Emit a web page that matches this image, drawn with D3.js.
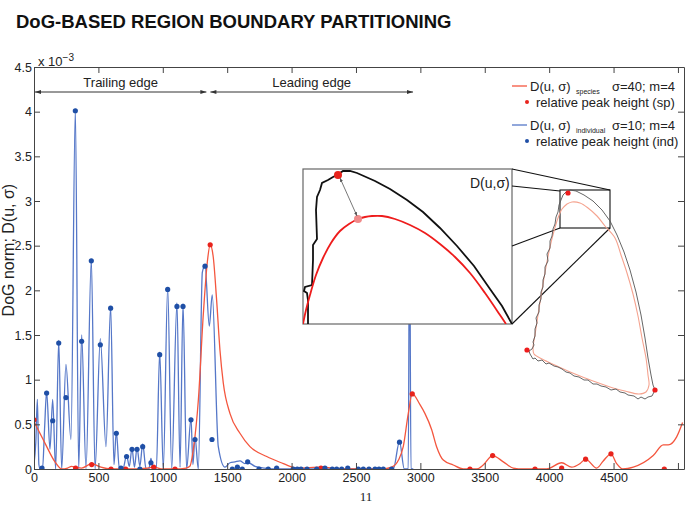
<!DOCTYPE html>
<html>
<head>
<meta charset="utf-8">
<script src="https://cdn.jsdelivr.net/npm/d3@7"></script>
<style>
body { margin: 0; background: #fff; }
svg { display: block; }
text { font-family: "Liberation Sans", Arial, sans-serif; fill: #222; }
</style>
</head>
<body>
<div id="chart"></div>
<script>
// ---- data ----
var xTicks = [0, 500, 1000, 1500, 2000, 2500, 3000, 3500, 4000, 4500, 5000];
var xTickLabels = ["0", "500", "1000", "1500", "2000", "2500", "3000", "3500", "4000", "4500", ""];
var yTicks = [0, 0.5, 1, 1.5, 2, 2.5, 3, 3.5, 4, 4.5];
var yTickLabels = ["0", "0.5", "1", "1.5", "2", "2.5", "3", "3.5", "4", "4.5"];

// D(u, sigma) individual (sigma=10), blue
var indX = [0, 14, 26, 38, 47, 66, 82, 98, 124, 145, 168, 192, 215, 248, 287, 321, 347, 370, 404, 445,
  474, 515, 559, 595, 621, 639, 663, 690, 719, 740, 761, 780, 800, 822, 844, 870, 892, 908, 925, 950,
  976, 1004, 1038, 1069, 1110, 1134, 1157, 1185, 1219, 1234, 1250, 1276, 1307, 1328, 1361, 1384, 1431, 1483,
  1522, 1561, 1599, 1638, 1664, 1716, 1793, 1897, 2790, 2838, 2875, 2906, 2916, 2927, 2945];
var indY = [0.05, 0.3, 0.78, 0.05, 0, 0, 0.45, 0.87, 0.22, 0.78, 0, 1.44, 0, 1.17, 0.33, 4.03, 0, 1.5, 0, 2.35,
  0, 1.46, 0.25, 1.82, 0.05, 0.42, 0, 0, 0.15, 0.03, 0.23, 0.02, 0.24, 0.03, 0.28, 0, 0, 0.12, 0, 0,
  1.31, 0, 2.03, 0, 1.86, 0.02, 1.85, 0, 0.57, 0.05, 0.36, 0, 2.2, 2.28, 1.6, 1.95, 0.25, 0.02,
  0.07, 0.08, 0.09, 0.06, 0.07, 0.03, 0.01, 0, 0, 0.31, 0, 0, 3.0, 0, 0];

// D(u, sigma) species (sigma=40), red
var spX = [0, 85, 163, 215, 260, 292, 323, 370, 448, 520, 598, 712, 800, 880, 929, 1000, 1095, 1180, 1210,
  1240, 1276, 1315, 1346, 1368, 1392, 1418, 1444, 1470, 1522, 1599, 1677, 1807, 1936, 1988, 2050, 2228, 2400,
  2700, 2777, 2830, 2867, 2906, 2937, 2997, 3036, 3088, 3126, 3178, 3255, 3333, 3437, 3488, 3561, 3644, 3721,
  3800, 3981, 4097, 4175, 4239, 4283, 4369, 4420, 4480, 4524, 4571, 4653, 4808, 4886, 4925, 4990, 5036];
var spY = [0.53, 0.29, 0.08, 0, 0.01, 0.03, 0.02, 0.01, 0.06, 0.02, 0, 0, 0, 0.01, 0.02, 0, 0, 0.01, 0.03,
  0.25, 0.77, 1.74, 2.32, 2.51, 2.37, 1.89, 1.33, 0.96, 0.62, 0.4, 0.25, 0.14, 0.06, 0.03, 0.01, 0.02, 0,
  0, 0.02, 0.1, 0.25, 0.62, 0.84, 0.72, 0.62, 0.44, 0.25, 0.1, 0.045, 0, 0, 0.045, 0.15, 0.08, 0.01,
  0, 0, 0.07, 0.02, 0.06, 0.11, 0.01, 0.09, 0.17, 0.06, 0, 0.02, 0.15, 0.27, 0.27, 0.36, 0.52];

// relative peak heights
var spPeakX = [0, 323, 448, 598, 712, 929, 1095, 1368, 2228, 2937, 3385, 3561, 3890, 4097, 4283, 4480, 4894];
var spPeakY = [0.55, 0.01, 0.05, 0, 0, 0.02, 0, 2.51, 0.01, 0.84, 0, 0.15, 0, 0.01, 0.11, 0.17, 0];
var indPeakX = [62, 98, 145, 192, 248, 321, 370, 445, 515, 595, 639, 675, 719, 761, 800, 822, 844, 908,
  976, 1038, 1110, 1157, 1219, 1250, 1328, 1382, 1540, 1579, 1617, 1659, 1747, 1819, 1884, 2013, 2044,
  2073, 2120, 2195, 2259, 2316, 2350, 2389, 2436, 2518, 2557, 2601, 2648, 2679, 2712, 2777, 2838];
var indPeakY = [0.01, 0.85, 0.54, 1.41, 0.8, 4.01, 1.43, 2.33, 1.39, 1.8, 0.4, 0.01, 0.14, 0.22, 0.22, 0, 0.25, 0.07,
  1.28, 2.01, 1.82, 1.82, 0.55, 0.33, 2.27, 0.33, 0, 0.02, 0, 0.08, 0, 0, 0.01, 0, 0,
  0, 0, 0, 0.01, 0, 0, 0, 0.01, 0, 0, 0, 0, 0, 0, 0, 0.3];

var edgeNames = ["Trailing edge", "Leading edge"];
var edgeBounds = [0, 1354, 2943];

// leaf outline (sketch units) and its smoothed version
var leafRaw = [[41,7],[45,5],[51,6],[59,10],[68,16],[77,25],[85,36],[92,50],[99,67],[105,85],[111,107],[116,130],
  [120,153],[123,173],[126,190],[128,200],[130,205],[127,211],[123,212],[120,214],[116,212],[113,214],[109,211],
  [103,210],[100,208],[95,207],[91,204],[86,205],[81,202],[76,201],[72,199],[68,199],[63,195],[59,195],[54,192],
  [49,191],[45,188],[41,187],[37,184],[33,182],[29,181],[24,178],[21,179],[17,175],[13,176],[10,173],[8,174],
  [5,169],[4,166],[7,164],[9,160],[8,157],[10,151],[10,144],[12,138],[11,133],[14,127],[14,120],[16,114],[16,107],
  [18,102],[18,95],[20,89],[20,82],[23,76],[22,69],[25,63],[25,56],[27,51],[28,44],[30,39],[31,32],[33,27],
  [34,20],[36,15],[38,10],[41,7]];
var leafSmooth = [[42,19],[47,17],[55,18],[63,23],[72,31],[80,41],[90,53],[96,70],[102,88],[108,109],[113,131],
  [117,153],[121,173],[123,190],[124,200],[121,207],[114,209],[100,206],[85,202],[68,196],[50,189],[32,181],
  [17,174],[9,169],[8,163],[10,150],[13,130],[17,105],[21,82],[25,62],[29,46],[33,33],[37,24],[42,19]];
var leafPeaks = [[43,8],[2,165],[130,205]];
var leafZoomBox = [35, 5, 85, 43];

// zoomed tip (inset units)
var tipRaw = [[5,155],[5,131],[4,124],[1,122],[2,118],[9,116],[10,91],[10,76],[14,70],[13,41],[14,28],[17,21],
  [19,14],[25,11],[30,8],[34,6],[40,2],[47,2],[54,4],[72,12],[87,20],[104,31],[120,43],[137,59],[154,77],
  [171,97],[187,120],[199,137],[209,155]];
var tipSmooth = [[0,155],[3,141],[7,126],[13,106],[20,89],[28,74],[37,62],[46,55],[55,50],[62,48],[69,47],
  [79,47],[92,50],[107,56],[122,64],[137,75],[152,88],[167,104],[182,124],[197,146],[203,155]];
var tipPeakRaw = [35, 6];
var tipPeakSmooth = [55, 50];

// ---- chart ----
var W = 691, H = 507;
var svg = d3.select("#chart").append("svg").attr("width", W).attr("height", H);

var x = d3.scaleLinear().domain([0, 5047]).range([34, 684]);
var y = d3.scaleLinear().domain([0, 4.5]).range([469, 67]);

svg.append("text")
  .attr("x", 16).attr("y", 28)
  .style("font-weight", "bold").style("font-size", "18.5px").style("fill", "#111")
  .text("DoG-BASED REGION BOUNDARY PARTITIONING");

svg.append("defs").append("clipPath").attr("id", "plotclip")
  .append("rect").attr("x", 34).attr("y", 67).attr("width", 650).attr("height", 402);

var ind = indX.map(function(d, i) { return [d, indY[i]]; });
var sp = spX.map(function(d, i) { return [d, spY[i]]; });

var line = d3.line()
  .x(function(d) { return x(d[0]); })
  .y(function(d) { return y(d[1]); })
  .curve(d3.curveMonotoneX);

var plot = svg.append("g").attr("clip-path", "url(#plotclip)");
plot.append("path").datum(ind).attr("d", line)
  .attr("fill", "none").attr("stroke", "#5577c8").attr("stroke-width", 1.3);
plot.append("path").datum(sp).attr("d", line)
  .attr("fill", "none").attr("stroke", "#f4563e").attr("stroke-width", 1.3);

plot.selectAll(".spdot").data(spPeakX).enter().append("circle")
  .attr("cx", function(d) { return x(d); })
  .attr("cy", function(d, i) { return y(spPeakY[i]); })
  .attr("r", 2.6).attr("fill", "#e8231c");
plot.selectAll(".inddot").data(indPeakX).enter().append("circle")
  .attr("cx", function(d) { return x(d); })
  .attr("cy", function(d, i) { return y(indPeakY[i]); })
  .attr("r", 2.6).attr("fill", "#1f4fa6");

// axes, MATLAB box style with inward ticks
function styleAxis(g) {
  g.selectAll("path.domain").attr("stroke", "#444");
  g.selectAll(".tick line").attr("stroke", "#444");
  g.selectAll(".tick text").style("font-size", "12.5px").style("fill", "#222")
    .style("font-family", "'Liberation Sans', Arial, sans-serif");
}
svg.append("g").attr("transform", "translate(0,469)")
  .call(d3.axisBottom(x).tickValues(xTicks).tickSizeInner(-6).tickSizeOuter(0).tickPadding(4)
    .tickFormat(function(d, i) { return xTickLabels[i]; }))
  .call(styleAxis);
svg.append("g").attr("transform", "translate(0,67)")
  .call(d3.axisTop(x).tickValues(xTicks).tickSizeInner(-6).tickSizeOuter(0).tickFormat(""))
  .call(styleAxis);
svg.append("g").attr("transform", "translate(34,0)")
  .call(d3.axisLeft(y).tickValues(yTicks).tickSizeInner(-6).tickSizeOuter(0).tickPadding(2)
    .tickFormat(function(d, i) { return yTickLabels[i]; }))
  .call(styleAxis);
svg.append("g").attr("transform", "translate(684,0)")
  .call(d3.axisRight(y).tickValues(yTicks).tickSizeInner(-6).tickSizeOuter(0).tickFormat(""))
  .call(styleAxis);

var mult = svg.append("text").attr("x", 38).attr("y", 66).style("font-size", "13px");
mult.append("tspan").text("x 10");
mult.append("tspan").attr("dy", -5).style("font-size", "10px").text("\u22123");

svg.append("text")
  .attr("transform", "translate(14," + y(2.45) + ") rotate(-90)")
  .attr("text-anchor", "middle").style("font-size", "16px")
  .text("DoG norm; D(u, \u03c3)");

// trailing / leading edge arrows
var defs = svg.select("defs");
defs.append("marker").attr("id", "ah").attr("viewBox", "0 0 10 10")
  .attr("refX", 10).attr("refY", 5).attr("markerWidth", 7).attr("markerHeight", 6)
  .attr("orient", "auto-start-reverse")
  .append("path").attr("d", "M0,1.5L10,5L0,8.5Z").attr("fill", "#333");
var arrowY = 92;
edgeNames.forEach(function(name, i) {
  var x0 = x(edgeBounds[i]) + (i > 0 ? 2 : 1), x1 = x(edgeBounds[i + 1]) - (i === 0 ? 2 : 0);
  svg.append("line").attr("x1", x0).attr("x2", x1).attr("y1", arrowY).attr("y2", arrowY)
    .attr("stroke", "#333").attr("stroke-width", 1)
    .attr("marker-start", "url(#ah)").attr("marker-end", "url(#ah)");
  svg.append("text").attr("x", (x0 + x1) / 2).attr("y", arrowY - 5)
    .attr("text-anchor", "middle").style("font-size", "13px").text(name);
});

// legend
var lg = svg.append("g");
var rows = [
  {type: "line", color: "#f4563e", y: 86, main: "D(u, \u03c3)", sub: "species", tail: "\u03c3=40; m=4"},
  {type: "dot", color: "#e8231c", y: 102, main: "relative peak height (sp)"},
  {type: "line", color: "#5577c8", y: 125, main: "D(u, \u03c3)", sub: "individual", tail: "\u03c3=10; m=4"},
  {type: "dot", color: "#1f4fa6", y: 141, main: "relative peak height (ind)"}
];
rows.forEach(function(r) {
  if (r.type === "line") {
    lg.append("line").attr("x1", 512).attr("x2", 527).attr("y1", r.y).attr("y2", r.y)
      .attr("stroke", r.color).attr("stroke-width", 1.3);
    lg.append("text").attr("x", 530).attr("y", r.y + 5).style("font-size", "13px").text(r.main);
    lg.append("text").attr("x", 576).attr("y", r.y + 8).style("font-size", "7px").text(r.sub);
    lg.append("text").attr("x", 612).attr("y", r.y + 5).style("font-size", "13px").text(r.tail);
  } else {
    lg.append("circle").attr("cx", 527).attr("cy", r.y).attr("r", 2).attr("fill", r.color);
    lg.append("text").attr("x", 536).attr("y", r.y + 5).style("font-size", "13px").text(r.main);
  }
});

// inset: zoomed leaf tip
var ix = d3.scaleLinear().domain([0, 209]).range([303, 512]);
var iy = d3.scaleLinear().domain([0, 155]).range([169, 324]);
var lx = d3.scaleLinear().domain([0, 130]).range([525, 655]);
var ly = d3.scaleLinear().domain([0, 205]).range([185, 390]);

svg.append("rect").attr("x", ix(0)).attr("y", iy(0)).attr("width", ix(209) - ix(0)).attr("height", iy(155) - iy(0))
  .attr("fill", "#fff").attr("stroke", "#666").attr("stroke-width", 1.2);
defs.append("clipPath").attr("id", "insetclip").append("rect")
  .attr("x", ix(0)).attr("y", iy(0)).attr("width", ix(209) - ix(0)).attr("height", iy(155) - iy(0));

var iline = d3.line().x(function(d) { return ix(d[0]); }).y(function(d) { return iy(d[1]); });
var inset = svg.append("g").attr("clip-path", "url(#insetclip)");
inset.append("path").datum(tipRaw).attr("d", iline.curve(d3.curveLinear))
  .attr("fill", "none").attr("stroke", "#111").attr("stroke-width", 1.8);
inset.append("path").datum(tipSmooth).attr("d", iline.curve(d3.curveCatmullRom))
  .attr("fill", "none").attr("stroke", "#ee1c1c").attr("stroke-width", 1.8);
inset.append("circle").attr("cx", ix(tipPeakRaw[0])).attr("cy", iy(tipPeakRaw[1])).attr("r", 4).attr("fill", "#e8231c");
inset.append("circle").attr("cx", ix(tipPeakSmooth[0])).attr("cy", iy(tipPeakSmooth[1])).attr("r", 4).attr("fill", "#f08a8a");
defs.append("marker").attr("id", "ah2").attr("viewBox", "0 0 10 10")
  .attr("refX", 10).attr("refY", 5).attr("markerWidth", 5).attr("markerHeight", 5)
  .attr("orient", "auto-start-reverse")
  .append("path").attr("d", "M0,1L10,5L0,9Z").attr("fill", "#555");
inset.append("line")
  .attr("x1", ix(tipPeakRaw[0]) + 2).attr("y1", iy(tipPeakRaw[1]) + 3)
  .attr("x2", ix(tipPeakSmooth[0]) - 1).attr("y2", iy(tipPeakSmooth[1]) - 3)
  .attr("stroke", "#555").attr("stroke-width", 0.8)
  .attr("marker-start", "url(#ah2)").attr("marker-end", "url(#ah2)");
svg.append("text").attr("x", ix(167)).attr("y", iy(19)).style("font-size", "14px").text("D(u,\u03c3)");

// connector lines from inset to zoom box on the leaf
var bx0 = lx(leafZoomBox[0]), by0 = ly(leafZoomBox[1]), bx1 = lx(leafZoomBox[2]), by1 = ly(leafZoomBox[3]);
var conn = [[ix(209), iy(0), bx1, by0], [ix(209), iy(17), bx0, by0 + 1], [ix(209), iy(77), bx0, by1], [ix(209), iy(155), bx1, by1]];
conn.forEach(function(c) {
  svg.append("line").attr("x1", c[0]).attr("y1", c[1]).attr("x2", c[2]).attr("y2", c[3])
    .attr("stroke", "#111").attr("stroke-width", 1.1);
});
svg.append("rect").attr("x", bx0).attr("y", by0).attr("width", bx1 - bx0).attr("height", by1 - by0)
  .attr("fill", "none").attr("stroke", "#111").attr("stroke-width", 1.1);

var leafLine = d3.line().x(function(d) { return lx(d[0]); }).y(function(d) { return ly(d[1]); });
svg.append("path").datum(leafSmooth).attr("d", leafLine.curve(d3.curveCatmullRomClosed))
  .attr("fill", "none").attr("stroke", "#f5a38f").attr("stroke-width", 1.1);
svg.append("path").datum(leafRaw).attr("d", leafLine.curve(d3.curveLinear))
  .attr("fill", "none").attr("stroke", "#555").attr("stroke-width", 0.9);
svg.selectAll(".leafpk").data(leafPeaks).enter().append("circle")
  .attr("cx", function(d) { return lx(d[0]); }).attr("cy", function(d) { return ly(d[1]); })
  .attr("r", 2.6).attr("fill", "#ee1c1c");

// page number
svg.append("text").attr("x", 366).attr("y", 501).attr("text-anchor", "middle")
  .style("font-family", "'Liberation Serif', serif").style("font-size", "13px").text("11");
</script>
</body>
</html>
